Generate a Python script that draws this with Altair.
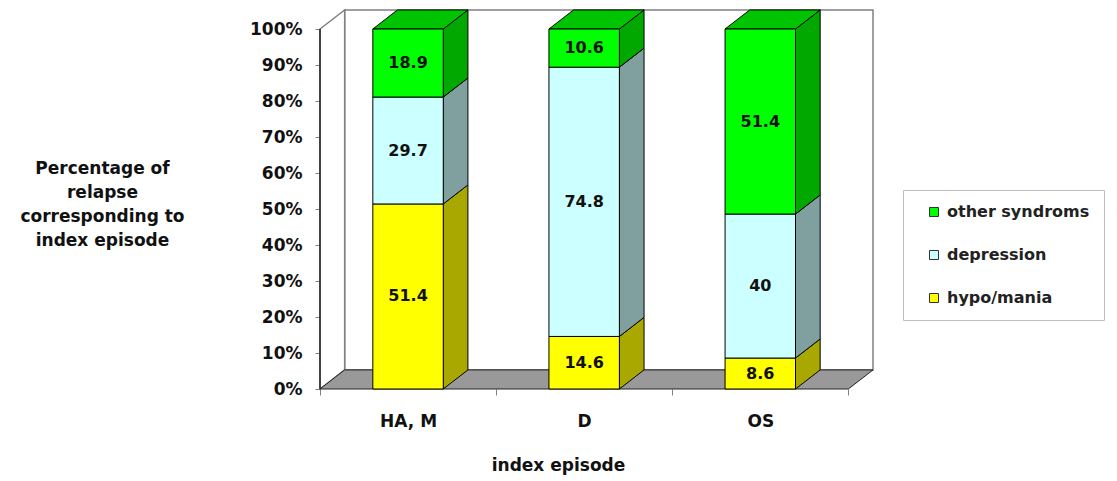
import altair as alt
import pandas as pd

# ---------------- data ----------------
categories = ["HA, M", "D", "OS"]
series = ["hypo/mania", "depression", "other syndroms"]
hypo_mania = [51.4, 14.6, 8.6]
depression = [29.7, 74.8, 40.0]
other_syndroms = [18.9, 10.6, 51.4]
y_ticks = [0, 10, 20, 30, 40, 50, 60, 70, 80, 90, 100]
legend_order = ["other syndroms", "depression", "hypo/mania"]
y_title = ["Percentage of", "relapse", "corresponding to", "index episode"]
x_title = "index episode"

# ---------------- styles ----------------
FONT = "DejaVu Sans"
front_colors = {"hypo/mania": "#FFFF00", "depression": "#CCFFFF", "other syndroms": "#00FF00"}
side_colors = {"hypo/mania": "#A8A800", "depression": "#80A0A0", "other syndroms": "#00A800"}
top_color = "#00C400"
BAR_HALF = 0.2      # half bar width (category units)
DX = 0.14           # 3-D depth, horizontal (category units)
DY = 5.3            # 3-D depth, vertical (percent units)
N = len(categories)
TOP = 100

values = {"hypo/mania": hypo_mania, "depression": depression, "other syndroms": other_syndroms}

seg_rows, side_rows, top_rows = [], [], []
for i, cat in enumerate(categories):
    c = i + 0.5
    cum = 0.0
    for s in series:
        v = values[s][i]
        lo, hi = cum, cum + v
        cum = hi
        sid = f"{i}_{series.index(s)}"
        seg_rows.append(dict(cat=cat, series=s, xa=c - BAR_HALF, xb=c + BAR_HALF, xc=c,
                             lo=lo, hi=hi, mid=(lo + hi) / 2, label=f"{v:g}"))
        side_rows.append(dict(sid=sid, series=s, sx=c + BAR_HALF, sy=lo, sy2=hi))
        side_rows.append(dict(sid=sid, series=s, sx=c + BAR_HALF + DX, sy=lo + DY, sy2=hi + DY))
    top_rows.append(dict(cat=cat, ty=TOP, tx=c - BAR_HALF, tx2=c + BAR_HALF))
    top_rows.append(dict(cat=cat, ty=TOP + DY, tx=c - BAR_HALF + DX, tx2=c + BAR_HALF + DX))

segs = pd.DataFrame(seg_rows)
sides = pd.DataFrame(side_rows)
tops = pd.DataFrame(top_rows)
floor = pd.DataFrame([dict(fy=0, fx=0, fx2=N), dict(fy=DY, fx=DX, fx2=N + DX)])
lwall = pd.DataFrame([dict(lx=0, ly=0, ly2=TOP), dict(lx=DX, ly=DY, ly2=TOP + DY)])
bwall = pd.DataFrame([dict(bx=DX, bx2=N + DX, by=DY, by2=TOP + DY)])
yline = pd.DataFrame([dict(rx=0, ry=0, ry2=TOP)])

xs = alt.Scale(domain=[0, N + DX], nice=False, zero=False)
ys = alt.Scale(domain=[0, 105.56], nice=False, zero=False)

label_expr = " : ".join(
    [f"datum.value == {i + 0.5} ? '{c}'" for i, c in enumerate(categories)]
) + " : ''"
x_vals = [i * 0.5 for i in range(2 * N + 1)]

x_axis = alt.Axis(
    values=x_vals, labelExpr=label_expr, domain=False, grid=False,
    tickSize=6, tickColor="#808080",
    tickOpacity={"condition": {"test": "datum.value % 1 === 0", "value": 1}, "value": 0},
    labelPadding=18, labelFont=FONT, labelFontSize=17, labelFontWeight="bold",
    labelColor="#111111", labelOverlap=False, labelFlush=False,
    title=x_title, titleFont=FONT, titleFontSize=17, titleFontWeight="bold",
    titleColor="#111111", titleX=238, titleY=76, titleAlign="center",
    titleBaseline="middle", titleAnchor="start",
)
y_axis = alt.Axis(
    values=y_ticks, labelExpr="datum.value + '%'", domain=False, grid=False,
    tickSize=5, tickColor="#808080", labelPadding=13,
    labelFont=FONT, labelFontSize=17, labelFontWeight="bold", labelColor="#111111",
    labelOverlap=False, labelFlush=False,
    title=y_title, titleFont=FONT, titleFontSize=17, titleFontWeight="bold",
    titleColor="#111111", titleAngle=0, titleX=-218, titleY=159, titleAlign="center",
    titleBaseline="middle", titleLineHeight=24, titleAnchor="start",
)


def X(field):
    return alt.X(field, scale=xs, axis=x_axis)


def Y(field, stack=False):
    if stack:
        return alt.Y(field, scale=ys, axis=y_axis, stack=None)
    return alt.Y(field, scale=ys, axis=y_axis)


front_scale = alt.Scale(domain=legend_order, range=[front_colors[s] for s in legend_order])
side_scale = alt.Scale(domain=legend_order, range=[side_colors[s] for s in legend_order])

back = alt.Chart(bwall).mark_rect(fill="white", stroke="#808080", strokeWidth=1.5).encode(
    x=X("bx:Q"), x2="bx2:Q", y=Y("by:Q"), y2="by2:Q")

left = alt.Chart(lwall).mark_area(orient="vertical", fill="white", stroke="#808080", strokeWidth=1.5).encode(
    x=X("lx:Q"), y=Y("ly:Q", True), y2="ly2:Q")

flr = alt.Chart(floor).mark_area(orient="horizontal", fill="#999999", stroke="#222222", strokeWidth=1).encode(
    y=Y("fy:Q", True), x=X("fx:Q"), x2="fx2:Q")

axis_line = alt.Chart(yline).mark_rule(color="#222222", strokeWidth=1.5).encode(
    x=X("rx:Q"), y=Y("ry:Q"), y2="ry2:Q")

side = alt.Chart(sides).mark_area(orient="vertical", stroke="black", strokeWidth=1).encode(
    x=X("sx:Q"), y=Y("sy:Q", True), y2="sy2:Q",
    fill=alt.Fill("series:N", scale=side_scale, legend=None),
    detail="sid:N")

top = alt.Chart(tops).mark_area(orient="horizontal", fill=top_color, stroke="black", strokeWidth=1).encode(
    y=Y("ty:Q", True), x=X("tx:Q"), x2="tx2:Q", detail="cat:N")

front = alt.Chart(segs).mark_rect(stroke="black", strokeWidth=1).encode(
    x=X("xa:Q"), x2="xb:Q", y=Y("lo:Q"), y2="hi:Q",
    fill=alt.Fill("series:N", scale=front_scale,
                  legend=alt.Legend(
                      title=None, orient="none", legendX=583, legendY=181,
                      padding=14, strokeColor="#C0C0C0", fillColor="white",
                      symbolType="square", symbolSize=81, symbolStrokeColor="#333333",
                      symbolStrokeWidth=1, symbolOffset=9, labelOffset=5,
                      rowPadding=27, labelFont=FONT, labelFontSize=16,
                      labelFontWeight="bold", labelColor="#222222", labelLimit=300)))

texts = alt.Chart(segs).mark_text(font=FONT, fontSize=16, fontWeight="bold", color="#111111").encode(
    x=X("xc:Q"), y=Y("mid:Q"), text="label:N")

chart = alt.layer(back, left, flr, axis_line, side, top, front, texts).resolve_scale(
    fill="independent"
).properties(
    width=553, height=380,
    autosize=alt.AutoSizeParams(type="none"),
    padding={"left": 320, "top": 9, "right": 244, "bottom": 92},
    background="white",
).configure_view(stroke=None)

chart.save("out.html", embed_options={"renderer": "svg", "actions": False})
